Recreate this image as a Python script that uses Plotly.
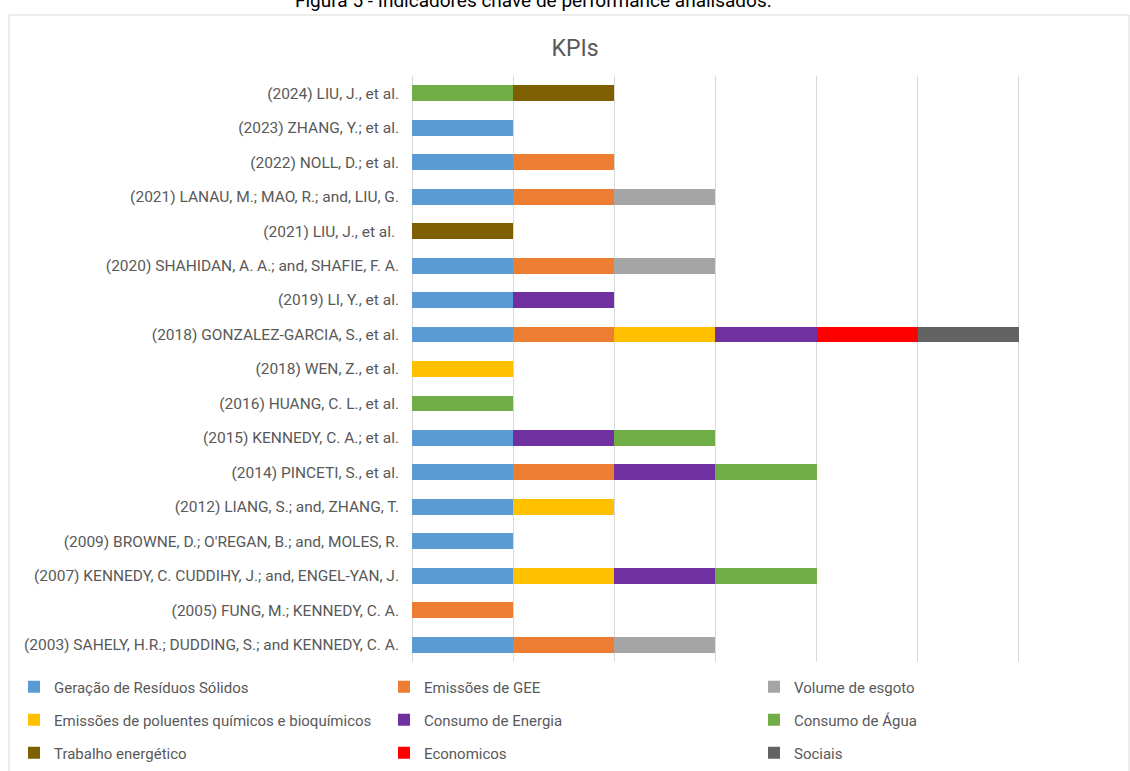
import plotly.graph_objects as go

# Studies, listed top to bottom
studies = [
    "(2024) LIU, J., et al.",
    "(2023) ZHANG, Y.; et al.",
    "(2022) NOLL, D.; et al.",
    "(2021) LANAU, M.; MAO, R.; and, LIU, G.",
    "(2021) LIU, J., et al. ",
    "(2020) SHAHIDAN, A. A.; and, SHAFIE, F. A.",
    "(2019) LI, Y., et al.",
    "(2018) GONZALEZ-GARCIA, S., et al.",
    "(2018) WEN, Z., et al.",
    "(2016) HUANG, C. L., et al.",
    "(2015) KENNEDY, C. A.; et al.",
    "(2014) PINCETI, S., et al.",
    "(2012) LIANG, S.; and, ZHANG, T.",
    "(2009) BROWNE, D.; O'REGAN, B.; and, MOLES, R.",
    "(2007) KENNEDY, C. CUDDIHY, J.; and, ENGEL-YAN, J.",
    "(2005) FUNG, M.; KENNEDY, C. A.",
    "(2003) SAHELY, H.R.; DUDDING, S.; and KENNEDY, C. A.",
]

# KPI indicators (1 = analysed in the study, 0 = not analysed)
residuos   = [0, 1, 1, 1, 0, 1, 1, 1, 0, 0, 1, 1, 1, 1, 1, 0, 1]
gee        = [0, 0, 1, 1, 0, 1, 0, 1, 0, 0, 0, 1, 0, 0, 0, 1, 1]
esgoto     = [0, 0, 0, 1, 0, 1, 0, 0, 0, 0, 0, 0, 0, 0, 0, 0, 1]
poluentes  = [0, 0, 0, 0, 0, 0, 0, 1, 1, 0, 0, 0, 1, 0, 1, 0, 0]
energia    = [0, 0, 0, 0, 0, 0, 1, 1, 0, 0, 1, 1, 0, 0, 1, 0, 0]
agua       = [1, 0, 0, 0, 0, 0, 0, 0, 0, 1, 1, 1, 0, 0, 1, 0, 0]
trabalho   = [1, 0, 0, 0, 1, 0, 0, 0, 0, 0, 0, 0, 0, 0, 0, 0, 0]
economicos = [0, 0, 0, 0, 0, 0, 0, 1, 0, 0, 0, 0, 0, 0, 0, 0, 0]
sociais    = [0, 0, 0, 0, 0, 0, 0, 1, 0, 0, 0, 0, 0, 0, 0, 0, 0]

series = [
    ("Geração de Resíduos Sólidos", residuos, "#5B9BD5", "legend"),
    ("Emissões de GEE", gee, "#ED7D31", "legend"),
    ("Volume de esgoto", esgoto, "#A5A5A5", "legend"),
    ("Emissões de poluentes químicos e bioquímicos", poluentes, "#FFC000", "legend2"),
    ("Consumo de Energia", energia, "#7030A0", "legend2"),
    ("Consumo de Água", agua, "#70AD47", "legend2"),
    ("Trabalho energético", trabalho, "#7F6000", "legend3"),
    ("Economicos", economicos, "#FF0000", "legend3"),
    ("Sociais", sociais, "#636363", "legend3"),
]

FONT = "Roboto, sans-serif"
TXT = "#595959"

fig = go.Figure()
for name, vals, color, leg in series:
    fig.add_trace(go.Bar(
        y=studies, x=vals, name=name, orientation="h",
        marker=dict(color=color, line=dict(width=0)),
        legend=leg,
    ))

W, H = 1130, 771
ML, MR, MT, MB = 412, 10, 76, 109
pw, ph = W - ML - MR, H - MT - MB


def px_x(px):
    return (px - ML) / pw


def px_y(py):
    return (H - MB - py) / ph


legend_common = dict(
    orientation="h", xanchor="left", yanchor="middle",
    x=px_x(14), entrywidth=325, entrywidthmode="pixels",
    font=dict(family=FONT, size=15, color=TXT),
    bgcolor="rgba(0,0,0,0)", itemwidth=30, traceorder="normal",
    borderwidth=0,
)

fig.update_layout(
    width=W, height=H,
    margin=dict(l=ML, r=MR, t=MT, b=MB, autoexpand=False),
    barmode="stack", bargap=0.54,
    plot_bgcolor="white", paper_bgcolor="white",
    font=dict(family=FONT, size=15, color=TXT),
    title=dict(text="KPIs", x=575 / W, xanchor="center",
               y=1 - 48 / H, yanchor="middle",
               font=dict(family=FONT, size=23, color=TXT)),
    xaxis=dict(range=[0, 7], dtick=1, showticklabels=False,
               showgrid=True, gridcolor="#D9D9D9", gridwidth=1,
               zeroline=True, zerolinecolor="#D9D9D9", zerolinewidth=1,
               showline=False, fixedrange=True),
    yaxis=dict(categoryorder="array", categoryarray=studies,
               autorange="reversed", ticks="", ticklabelstandoff=12,
               showgrid=False, showline=False,
               tickfont=dict(family=FONT, size=15.5, color=TXT)),
    legend=dict(legend_common, y=px_y(687)),
    legend2=dict(legend_common, y=px_y(720)),
    legend3=dict(legend_common, y=px_y(753)),
    showlegend=True,
)

# Outer chart frame
fig.add_shape(type="rect", xref="paper", yref="paper",
              x0=px_x(9), x1=px_x(1129), y0=px_y(800), y1=px_y(15),
              line=dict(color="#D9D9D9", width=1), fillcolor="rgba(0,0,0,0)",
              layer="below")

# Figure caption above the chart
fig.add_annotation(text="Figura 5 - Indicadores chave de performance analisados.",
                   xref="paper", yref="paper", x=px_x(533), y=px_y(1),
                   xanchor="center", yanchor="middle", showarrow=False,
                   font=dict(family=FONT, size=19, color="#000000"))

fig.write_html("out.html")
